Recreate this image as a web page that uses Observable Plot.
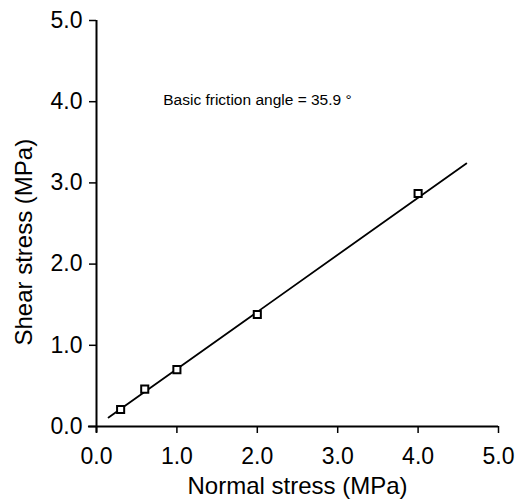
<!DOCTYPE html>
<html>
<head>
<meta charset="utf-8">
<script src="https://cdn.jsdelivr.net/npm/d3@7"></script>
<script src="https://cdn.jsdelivr.net/npm/@observablehq/plot@0.6"></script>
<style>
  html, body { margin: 0; padding: 0; background: #fff; }
  svg { display: block; }
</style>
</head>
<body>
<div id="chart"></div>
<script>
// Data
const normalStress = [0.3, 0.6, 1.0, 2.0, 4.0];     // MPa
const shearStress  = [0.21, 0.46, 0.70, 1.38, 2.87]; // MPa
const fitNormal = [0.15, 4.6];
const fitShear  = [0.11, 3.24];
const xTicks = [0, 1, 2, 3, 4, 5];
const yTicks = [0, 1, 2, 3, 4, 5];
const annotation = "Basic friction angle = 35.9 °";
const xTitle = "Normal stress (MPa)";
const yTitle = "Shear stress (MPa)";

const points = normalStress.map((x, i) => ({x, y: shearStress[i]}));
const fit = fitNormal.map((x, i) => ({x, y: fitShear[i]}));

const font = "'Liberation Sans', Arial, Helvetica, sans-serif";

const chart = Plot.plot({
  width: 532,
  height: 503,
  marginLeft: 96,
  marginRight: 34,
  marginTop: 20,
  marginBottom: 77,
  style: {fontFamily: font, background: "#fff", color: "#000"},
  x: {domain: [0, 5], axis: null},
  y: {domain: [0, 5], axis: null},
  marks: [
    // axis lines
    Plot.ruleY([0], {x1: -0.1, x2: 5, stroke: "#000", strokeWidth: 1.8}),
    Plot.ruleX([0], {y1: -0.08, y2: 5, stroke: "#000", strokeWidth: 2}),
    Plot.axisX({ticks: xTicks, tickFormat: d3.format(".1f"), tickSize: 7, tickPadding: 14,
      fontSize: 23, stroke: "#000", strokeWidth: 1.5, label: null}),
    Plot.axisY({ticks: yTicks, tickFormat: d3.format(".1f"), tickSize: 7, tickPadding: 7,
      fontSize: 23, stroke: "#000", strokeWidth: 1.5, label: null}),
    // fitted line
    Plot.line(fit, {x: "x", y: "y", stroke: "#000", strokeWidth: 1.8}),
    // measurements
    Plot.dot(points, {x: "x", y: "y", symbol: "square", r: 4, fill: "#fff", stroke: "#000", strokeWidth: 2}),
    // annotation
    Plot.text([annotation], {x: 0.83, y: 4.02, textAnchor: "start", lineAnchor: "middle",
      fontSize: 15.5, fill: "#000"}),
    // axis titles
    Plot.text([xTitle], {x: 2.5, y: -0.83, lineAnchor: "bottom", fontSize: 24, fill: "#000"}),
    Plot.text([yTitle], {x: -0.9, y: 2.27, rotate: -90, lineAnchor: "middle", fontSize: 24, fill: "#000"})
  ]
});
document.getElementById("chart").appendChild(chart);
</script>
</body>
</html>
